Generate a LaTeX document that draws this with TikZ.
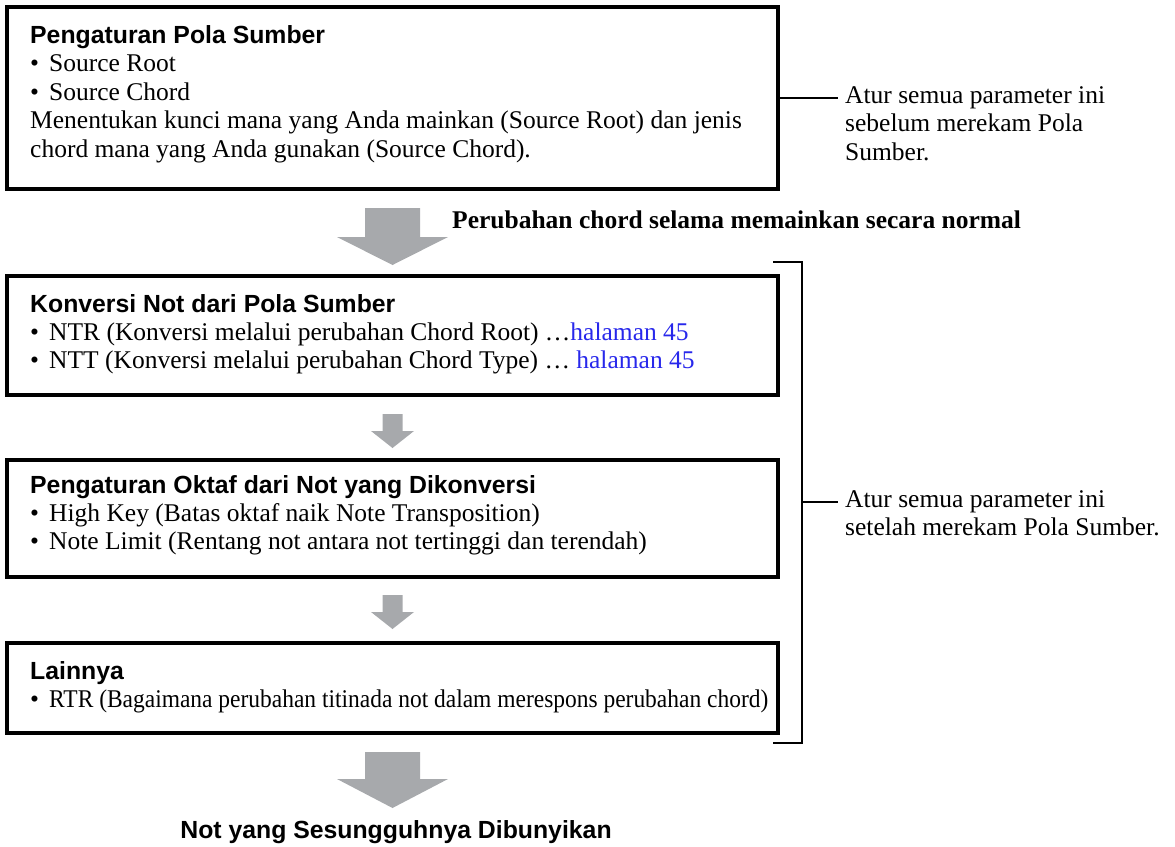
\documentclass[tikz,border=0pt]{standalone}
\usepackage{fontspec}
\setmainfont{Liberation Serif}
\newfontfamily\mysansfam{Liberation Sans}
\usetikzlibrary{calc}
\definecolor{linkblue}{RGB}{40,40,235}
\definecolor{arrowgrey}{RGB}{167,169,172}
\newcommand\mytitlefont{\mysansfam\bfseries\fontsize{24.8}{28}\selectfont}
\newcommand\mybodyfont{\fontsize{25.5}{28}\selectfont}
\newcommand\mybul{\makebox[19pt][l]{•}}
\newcommand\fatdown[5]{%
  \fill[arrowgrey] ($(#1)+(-#2,0)$) -- ($(#1)+(#2,0)$) -- ($(#1)+(#2,#4)$) -- ($(#1)+(#3,#4)$)
    -- ($(#1)+(0,#4+#5)$) -- ($(#1)+(-#3,#4)$) -- ($(#1)+(-#2,#4)$) -- cycle;}
\begin{document}
\begin{tikzpicture}[x=1pt,y=-1pt,
  boxst/.style={draw=black, line width=3.2pt, rectangle, inner sep=0pt, outer sep=0pt, minimum width=771pt, anchor=north west},
  ttl/.style={anchor=base west, inner sep=0pt, font=\mytitlefont},
  txt/.style={anchor=base west, inner sep=0pt, font=\mybodyfont},
  conn/.style={line width=1.8pt},
  brk/.style={line width=2pt}]
\useasboundingbox (0,0) rectangle (1175,846);

% boxes
\node[boxst, minimum height=182pt] (b1) at (7,7) {};
\node[boxst, minimum height=119pt] (b2) at (7,276) {};
\node[boxst, minimum height=117pt] (b3) at (7,460) {};
\node[boxst, minimum height=90pt] (b4) at (7,643) {};

% box 1 text
\node[ttl] (b1t) at (30,43) {Pengaturan Pola Sumber};
\node[txt] (b1a) at (30,71.5) {\mybul Source Root};
\node[txt] (b1b) at (30,100) {\mybul Source Chord};
\node[txt] (b1c) at (30,128.5) {Menentukan kunci mana yang Anda mainkan (Source Root) dan jenis};
\node[txt] (b1d) at (30,157) {chord mana yang Anda gunakan (Source Chord).};

% box 2 text
\node[ttl] (b2t) at (30,312) {Konversi Not dari Pola Sumber};
\node[txt] (b2a) at (30,340) {\mybul NTR (Konversi melalui perubahan Chord Root) …\textcolor{linkblue}{halaman 45}};
\node[txt] (b2b) at (30,368) {\mybul NTT (Konversi melalui perubahan Chord Type) … \textcolor{linkblue}{halaman 45}};

% box 3 text
\node[ttl] (b3t) at (30,493) {Pengaturan Oktaf dari Not yang Dikonversi};
\node[txt] (b3a) at (30,521) {\mybul High Key (Batas oktaf naik Note Transposition)};
\node[txt] (b3b) at (30,549) {\mybul Note Limit (Rentang not antara not tertinggi dan terendah)};

% box 4 text
\node[ttl] (b4t) at (30,679) {Lainnya};
\node[txt] (b4a) at (30,707) {\mybul\scalebox{0.92}[1]{RTR (Bagaimana perubahan titinada not dalam merespons perubahan chord)}};

% fat arrows
\coordinate (a1) at ($(b1.south)+(0,19)$);
\coordinate (a2) at ($(b2.south)+(0,19)$);
\coordinate (a3) at ($(b3.south)+(0,18)$);
\coordinate (a4) at ($(b4.south)+(0,19)$);
\fatdown{a1}{27.5}{55.5}{29}{28}
\fatdown{a2}{10}{21.5}{17}{17}
\fatdown{a3}{10}{21.5}{17}{17}
\fatdown{a4}{27.5}{55.5}{27}{29}

\node[anchor=base west, inner sep=0pt, font=\mybodyfont\bfseries] (lbl) at (452,228) {Perubahan chord selama memainkan secara normal};
\node[anchor=base, inner sep=0pt, font=\mytitlefont] (out) at (396,838) {Not yang Sesungguhnya Dibunyikan};

% note 1
\coordinate (c1) at (838,98);
\draw[conn] (b1.east) -- (c1);
\node[txt] (n1a) at (845,103) {Atur semua parameter ini};
\node[txt] (n1b) at (845,131.5) {sebelum merekam Pola};
\node[txt] (n1c) at (845,160) {Sumber.};

% bracket and note 2
\coordinate (bt0) at (773,262);
\coordinate (bt1) at (802,262);
\coordinate (bb1) at (802,743);
\coordinate (bb0) at (773,743);
\draw[brk] (bt0) -- (bt1) -- (bb1) -- (bb0);
\coordinate (bm) at (802,502);
\coordinate (c2) at (838,502);
\draw[conn] (bm) -- (c2);
\node[txt] (n2a) at (845,507) {Atur semua parameter ini};
\node[txt] (n2b) at (845,535.5) {setelah merekam Pola Sumber.};
\end{tikzpicture}
\end{document}
